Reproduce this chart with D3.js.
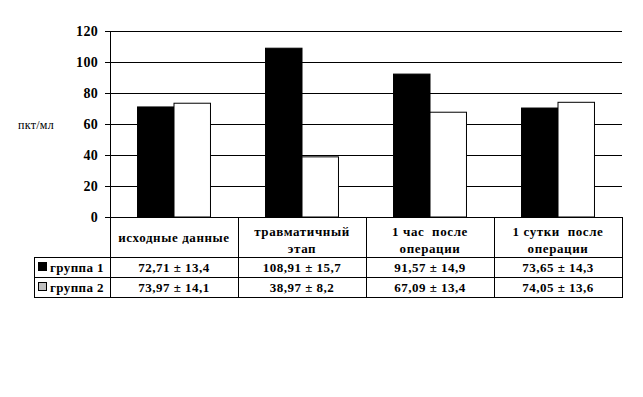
<!DOCTYPE html>
<html>
<head>
<meta charset="utf-8">
<script src="https://cdn.jsdelivr.net/npm/d3@7"></script>
</head>
<body style="margin:0; background:#fff">
<svg id="chart" width="643" height="397" font-family="Liberation Serif"></svg>
<script>
// categories (two header lines each)
var categories = [["исходные данные"], ["травматичный", "этап"], ["1 час  после", "операции"], ["1 сутки  после", "операции"]];
var seriesNames = ["группа 1", "группа 2"];
// bar heights as drawn in the picture
var group1 = [71, 108.9, 92.2, 70.3];
var group2 = [73.4, 38.8, 67.6, 74.0];
// texts of the data table
var group1Text = ["72,71 ± 13,4", "108,91 ± 15,7", "91,57 ± 14,9", "73,65 ± 14,3"];
var group2Text = ["73,97 ± 14,1", "38,97 ± 8,2", "67,09 ± 13,4", "74,05 ± 13,6"];
var yTicks = [0, 20, 40, 60, 80, 100, 120];

var svg = d3.select("#chart");
var plotLeft = 110, plotRight = 622, plotTop = 31, plotBottom = 217;

var x = d3.scaleBand().domain(d3.range(categories.length)).range([plotLeft, plotRight]);
var y = d3.scaleLinear().domain([0, 120]).range([plotBottom, plotTop]);
var bw = x.bandwidth() * 0.285;
var off = (x.bandwidth() - 2 * bw) / 2;

function serif(sel, size, bold, spacing) {
  return sel.attr("font-family", "Liberation Serif")
    .style("font-family", "'Liberation Serif'")
    .style("font-size", size + "px")
    .style("font-weight", bold ? "bold" : "normal")
    .style("letter-spacing", (spacing || 0) + "px");
}

// gridlines
svg.append("g").selectAll("line").data(yTicks).join("line")
  .attr("x1", plotLeft - 5).attr("x2", plotRight)
  .attr("y1", function(d){ return Math.round(y(d)) + 0.5; })
  .attr("y2", function(d){ return Math.round(y(d)) + 0.5; })
  .style("stroke", "#000").style("stroke-width", 1);

serif(svg.append("g").selectAll("text").data(yTicks).join("text"), 14, true, 0.3)
  .attr("x", plotLeft - 12).attr("y", function(d){ return y(d) + 5; })
  .attr("text-anchor", "end")
  .text(function(d){ return d; });

serif(svg.append("text"), 12, false, 0.3).attr("x", 18).attr("y", 129).text("пкт/мл");

// bars
var series = [group1, group2];
var fills = ["#000", "#fff"];
series.forEach(function(vals, s) {
  svg.append("g").selectAll("rect").data(vals).join("rect")
    .attr("x", function(d, i){ return x(i) + off + s * bw; })
    .attr("y", function(d){ return y(d); })
    .attr("width", bw)
    .attr("height", function(d){ return y(0) - y(d); })
    .style("fill", fills[s]).style("stroke", "#000").style("stroke-width", 1);
});

// axis line
svg.append("line").attr("x1", plotLeft + 0.5).attr("x2", plotLeft + 0.5).attr("y1", plotTop).attr("y2", 297)
  .style("stroke", "#000");

// data table
var hdrBottom = 257, row1Bottom = 277, row2Bottom = 297, tableLeft = 34;
var tbl = svg.append("g");
tbl.selectAll("line.v").data(d3.range(1, categories.length + 1)).join("line")
  .attr("x1", function(i){ return (i < categories.length ? x(i) : plotRight) + 0.5; })
  .attr("x2", function(i){ return (i < categories.length ? x(i) : plotRight) + 0.5; })
  .attr("y1", plotBottom).attr("y2", row2Bottom)
  .style("stroke", "#000");
[hdrBottom, row1Bottom, row2Bottom].forEach(function(yy) {
  tbl.append("line").attr("x1", tableLeft).attr("x2", plotRight + 1)
    .attr("y1", yy + 0.5).attr("y2", yy + 0.5).style("stroke", "#000");
});
tbl.append("line").attr("x1", tableLeft + 0.5).attr("x2", tableLeft + 0.5)
  .attr("y1", hdrBottom).attr("y2", row2Bottom).style("stroke", "#000");

categories.forEach(function(lines, i) {
  var cx = x(i) + x.bandwidth() / 2;
  var y0 = lines.length === 1 ? 242 : 236;
  lines.forEach(function(t, k) {
    serif(tbl.append("text"), 13, true, 0.6).attr("x", cx).attr("y", y0 + k * 17)
      .attr("text-anchor", "middle").style("white-space", "pre").text(t);
  });
});

[group1Text, group2Text].forEach(function(texts, r) {
  var ry = (r === 0 ? hdrBottom : row1Bottom) + 15;
  serif(tbl.selectAll(null).data(texts).join("text"), 13, true, 0.5)
    .attr("x", function(d, i){ return x(i) + x.bandwidth() / 2; })
    .attr("y", ry).attr("text-anchor", "middle").text(function(d){ return d; });
  tbl.append("rect").attr("x", 38.5).attr("y", ry - 9.5).attr("width", 8).attr("height", 8)
    .style("fill", r === 0 ? "#000" : "#c0c0c0").style("stroke", "#000");
  serif(tbl.append("text"), 13, true, 0.4).attr("x", 50).attr("y", ry).text(seriesNames[r]);
});
</script>
</body>
</html>
